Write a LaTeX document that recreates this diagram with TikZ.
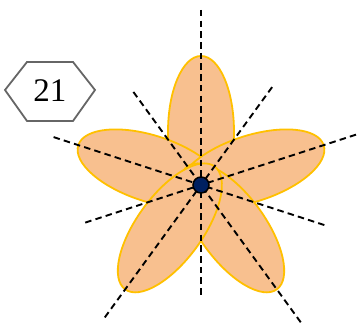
\documentclass[tikz,border=0pt]{standalone}
\usepackage{fontspec}
\setmainfont{Liberation Serif}
\usetikzlibrary{calc}
\definecolor{petalfill}{HTML}{F8C08F}
\definecolor{petaledge}{HTML}{FFC000}
\definecolor{navy}{HTML}{002060}
\definecolor{hexgray}{HTML}{666666}
\begin{document}
\begin{tikzpicture}[x=1pt,y=1pt,
  petal/.style={fill=petalfill,draw=petaledge,line width=1.8pt},
  axisline/.style={draw=black,line width=1.9pt,dash pattern=on 6.5pt off 4.2pt},
  hexbox/.style={draw=hexgray,line width=1.8pt}]
\useasboundingbox (0,0) rectangle (357,323);
\coordinate (C) at (201,138);
% petals
\foreach \a in {90,162,18,306,234}{
  \path[petal] ($(C)+(\a:53)$) ellipse [x radius=76, y radius=33, rotate=\a];
}
% symmetry axes
\foreach \a/\r/\s in {90/175/112, 126/115/170, 54/121/165, 162/155/132, 18/163/124}{
  \coordinate (p\a) at ($(C)+(\a:\r)$);
  \coordinate (q\a) at ($(C)+(\a+180:\s)$);
  \path[axisline] (p\a) -- (q\a);
}
% centre dot
\node[circle,fill=navy,draw=black,line width=1.5pt,minimum size=16pt,inner sep=0pt] (dot) at (C) {};
% hexagon label
\coordinate (h1) at (5,233);
\coordinate (h2) at (27,261);
\coordinate (h3) at (73,261);
\coordinate (h4) at (95,233);
\coordinate (h5) at (73,202);
\coordinate (h6) at (27,202);
\path[hexbox] (h1) -- (h2) -- (h3) -- (h4) -- (h5) -- (h6) -- cycle;
\node[font=\fontsize{33}{38}\selectfont,inner sep=0pt] (lbl) at (50,232) {21};
\end{tikzpicture}
\end{document}
